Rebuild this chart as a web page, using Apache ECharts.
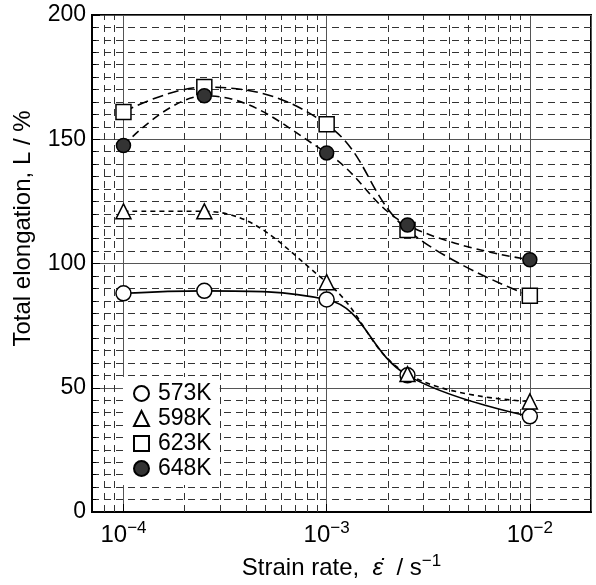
<!DOCTYPE html>
<html>
<head>
<meta charset="utf-8">
<script src="https://cdn.jsdelivr.net/npm/echarts@6/dist/echarts.min.js"></script>
<style>
  html, body { margin: 0; padding: 0; background: #fff; }
  #chart { width: 596px; height: 585px; }
</style>
</head>
<body>
<div id="chart"></div>
<script>
// Strain rate (1/s) and total elongation (%) per test temperature
const rates = [1e-4, 2.5e-4, 1e-3, 2.5e-3, 1e-2]
const el573 = [88, 89, 85.5, 55, 38.5]
const el598 = [121, 121, 92.5, 55.5, 44.5]
const el623 = [161, 171, 156, 113.5, 87]
const el648 = [147.5, 167.5, 144.5, 115.5, 101.5]
const names = ["573K", "598K", "623K", "648K"]

const xMin = 7e-5
const xMax = 2e-2

// minor log grid lines (2..9 x each decade)
const minorRates = []
for (let e = -5; e <= -2; e++) {
    for (let k = 2; k <= 9; k++) {
        const v = k * Math.pow(10, e)
        if (v > xMin * 1.0001 && v < xMax * 0.9999) minorRates.push(v)
    }
}

const pairs = (vals) => rates.map((r, i) => [r, vals[i]])

document.addEventListener("DOMContentLoaded", () => {
    const chart = echarts.init(document.getElementById("chart"))
    const font = "Liberation Sans, Arial, sans-serif"
    const dashed = [7, 5]

    const option = {
        animation: false,
        textStyle: { fontFamily: font, color: "#000" },
        grid: {
            left: 92, right: 5, top: 15, bottom: 73,
            show: true, borderColor: "#000", borderWidth: 2,
        },
        legend: {
            orient: "vertical",
            left: 123,
            top: 377,
            zlevel: 1,
            backgroundColor: "#fff",
            padding: [5, 8, 5, 10],
            itemGap: 2,
            itemWidth: 15,
            itemHeight: 15,
            selectedMode: false,
            textStyle: { fontSize: 23, fontFamily: font, color: "#000", padding: [0, 0, 0, 4] },
            data: [
                { name: "573K", icon: "circle" },
                { name: "598K", icon: "triangle" },
                { name: "623K", icon: "rect" },
                { name: "648K", icon: "circle" },
            ],
        },
        xAxis: {
            type: "log",
            logBase: 10,
            min: xMin,
            max: xMax,
            name: "Strain rate,  {e|ε̇}  / s{s|−1}",
            nameLocation: "middle",
            nameGap: 36,
            nameTextStyle: {
                fontSize: 24, fontFamily: font, color: "#000",
                rich: {
                    e: { fontSize: 24, fontStyle: "italic", fontFamily: font },
                    s: { fontSize: 17, fontFamily: font, padding: [0, 0, 14, 0] },
                },
            },
            axisLine: { lineStyle: { color: "#000", width: 2 } },
            axisTick: { inside: true, length: 8, lineStyle: { color: "#000" } },
            axisLabel: {
                margin: 8,
                showMinLabel: false,
                showMaxLabel: false,
                formatter: (v) => {
                    const e = Math.log10(v)
                    if (Math.abs(e - Math.round(e)) > 1e-6) return ""
                    return "{b|10}{s|−" + (-Math.round(e)) + "}"
                },
                rich: {
                    b: { fontSize: 24, fontFamily: font, color: "#000" },
                    s: { fontSize: 17, fontFamily: font, color: "#000", padding: [0, 0, 14, 0] },
                },
            },
            splitLine: { show: true, lineStyle: { color: "#555", width: 1 } },
        },
        yAxis: {
            type: "value",
            min: 0,
            max: 200,
            interval: 50,
            name: "Total elongation, L / %",
            nameLocation: "middle",
            nameGap: 57,
            nameTextStyle: { fontSize: 24, fontFamily: font, color: "#000", padding: [0, 0, 0, 70] },
            axisLine: { lineStyle: { color: "#000", width: 2 } },
            axisTick: { inside: true, length: 8, lineStyle: { color: "#000" } },
            minorTick: { show: true, splitNumber: 10, length: 4, lineStyle: { color: "#000" } },
            axisLabel: { fontSize: 23, fontFamily: font, color: "#000", margin: 6 },
            splitLine: { show: true, lineStyle: { color: "#555", width: 1 } },
            minorSplitLine: { show: true, lineStyle: { color: "#333", width: 1, type: dashed } },
        },
        series: [
            {
                // invisible carrier for the dashed minor vertical grid
                name: "grid",
                type: "line",
                data: pairs(el573),
                z: 1,
                silent: true,
                symbol: "none",
                lineStyle: { width: 0, color: "#333" },
                markLine: {
                    z: 1,
                    silent: true,
                    precision: 12,
                    symbol: ["none", "none"],
                    label: { show: false },
                    lineStyle: { color: "#333", width: 1, type: dashed, opacity: 1 },
                    data: minorRates.map((v) => ({ xAxis: v })),
                },
            },
            {
                name: names[0],
                type: "line",
                data: pairs(el573),
                smooth: 0.4,
                z: 4,
                symbol: "circle",
                symbolSize: 15,
                itemStyle: { color: "#fff", borderColor: "#000", borderWidth: 1.5 },
                lineStyle: { color: "#000", width: 1.6, type: "solid" },
            },
            {
                name: names[1],
                type: "line",
                data: pairs(el598),
                smooth: 0.4,
                z: 4,
                symbol: "triangle",
                symbolSize: 15,
                itemStyle: { color: "#fff", borderColor: "#000", borderWidth: 1.5 },
                lineStyle: { color: "#000", width: 1.6, type: [5, 4] },
            },
            {
                name: names[2],
                type: "line",
                data: pairs(el623),
                smooth: 0.4,
                z: 4,
                symbol: "rect",
                symbolSize: 15,
                itemStyle: { color: "#fff", borderColor: "#000", borderWidth: 1.5 },
                lineStyle: { color: "#000", width: 1.6, type: [11, 5] },
            },
            {
                name: names[3],
                type: "line",
                data: pairs(el648),
                smooth: 0.4,
                z: 4,
                symbol: "circle",
                symbolSize: 14,
                itemStyle: { color: "#333", borderColor: "#000", borderWidth: 1.5 },
                lineStyle: { color: "#000", width: 1.6, type: [8, 5] },
            },
        ],
    }

    chart.setOption(option)
})
</script>
</body>
</html>
